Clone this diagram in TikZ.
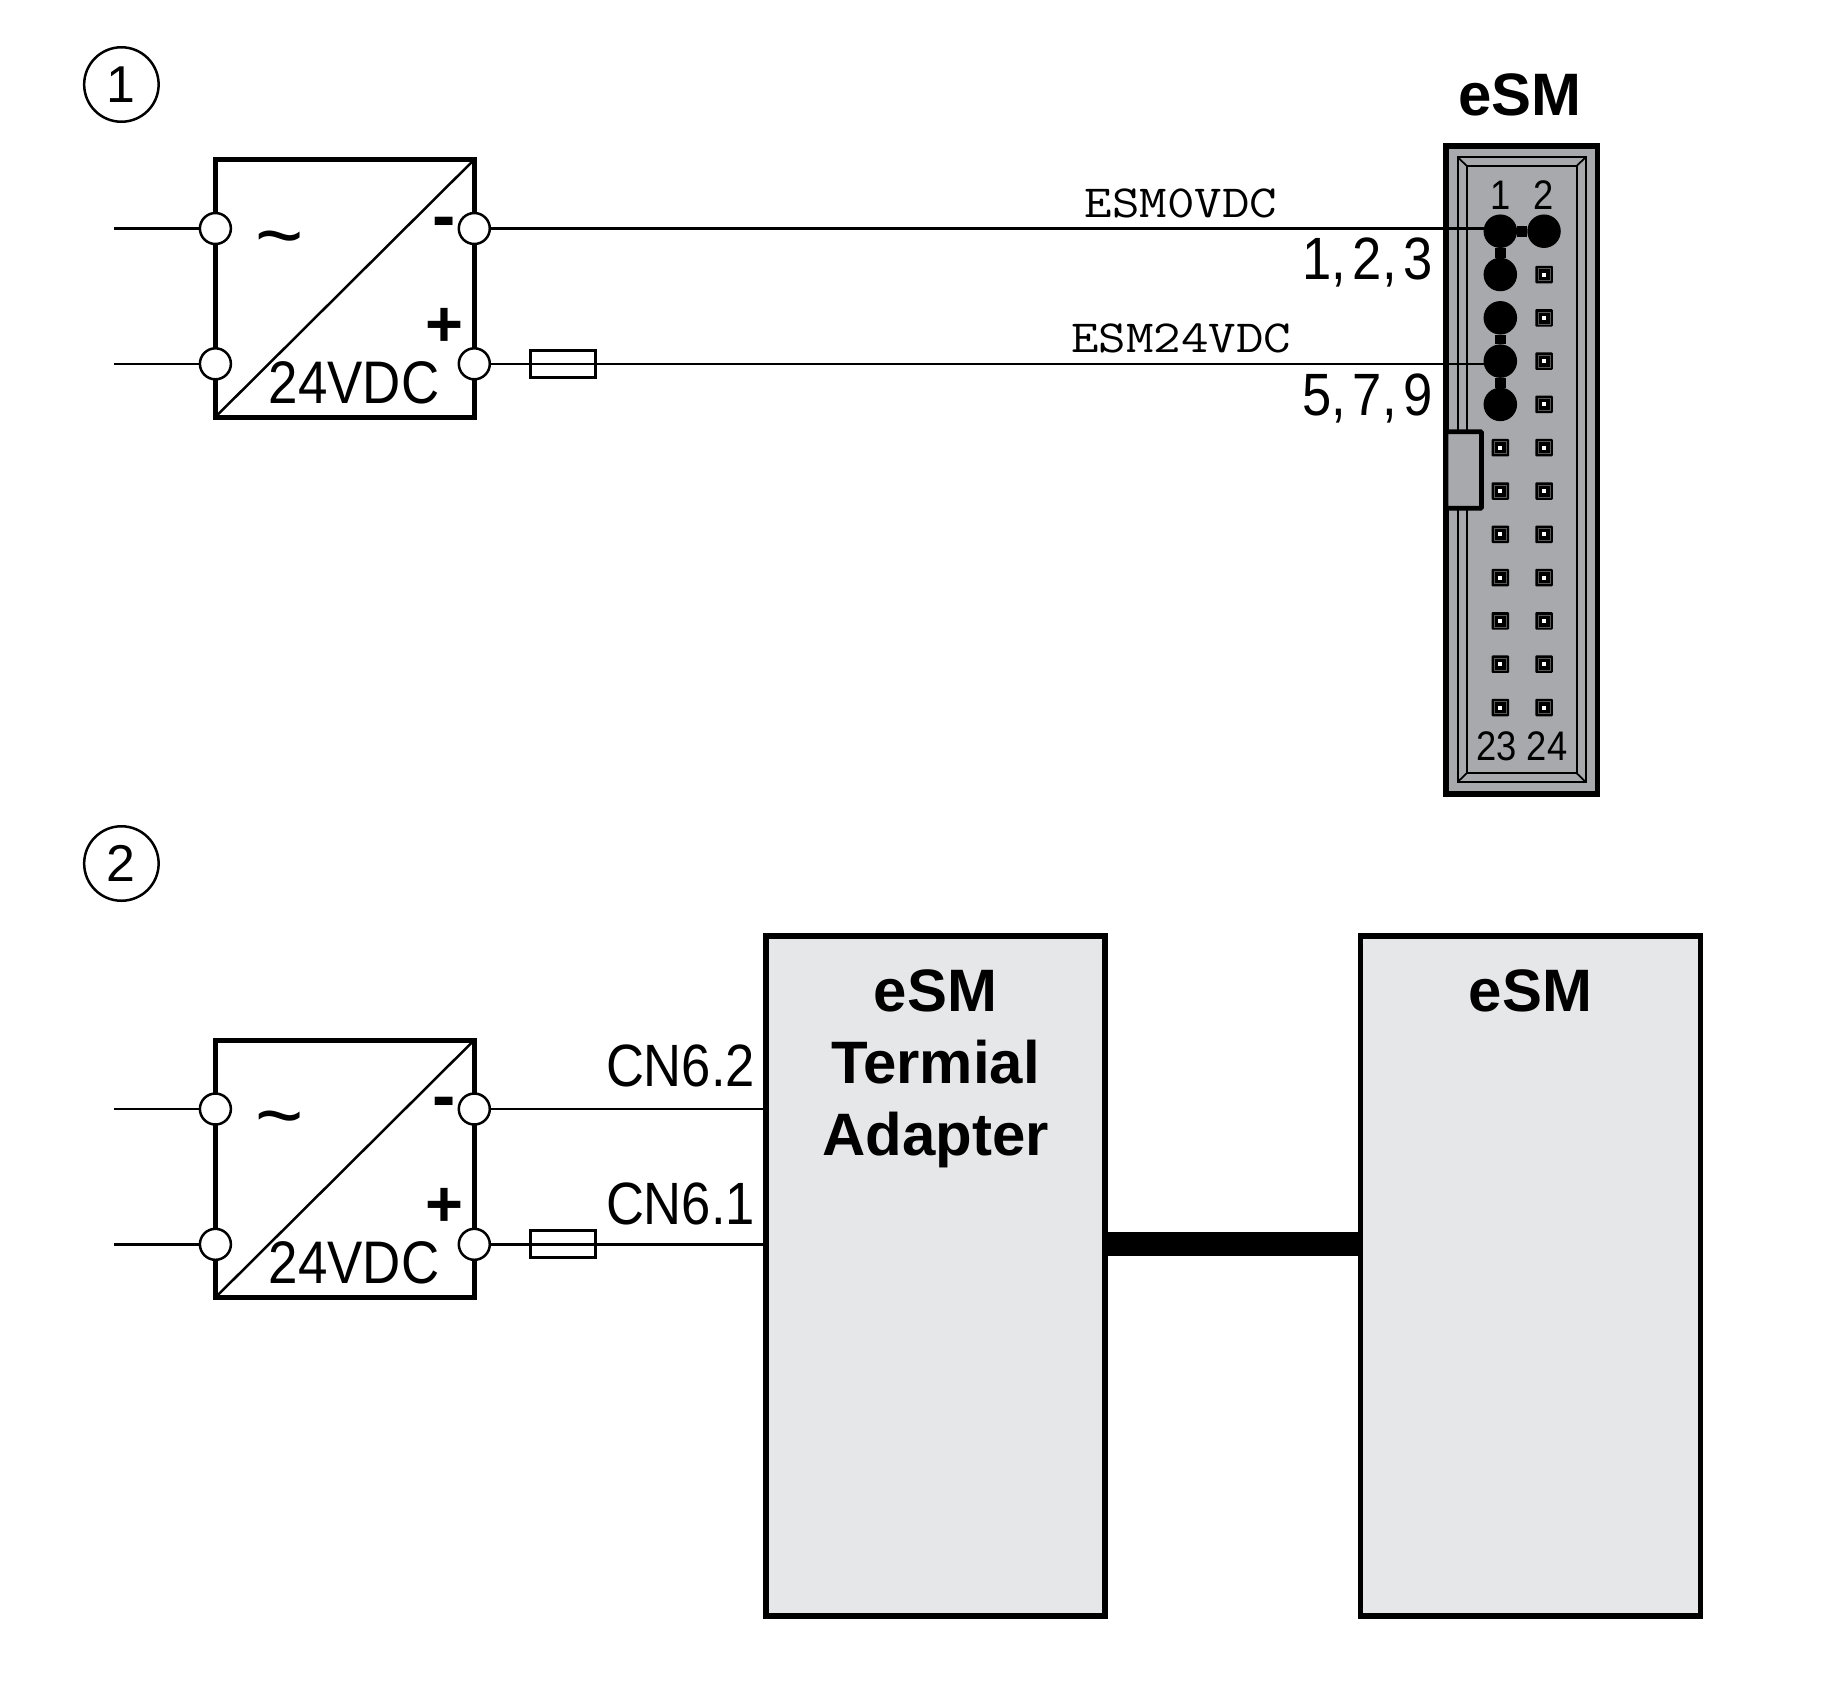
\documentclass[tikz,border=0pt]{standalone}
\usepackage{fontspec}
\usetikzlibrary{positioning}
\setmainfont{Liberation Sans}
\newfontfamily\narrowfont[FakeStretch=0.88]{Liberation Sans}
\newfontfamily\signalfont[FakeStretch=1.16]{Latin Modern Mono}
\definecolor{my_lightgray}{RGB}{230, 231, 232}
\definecolor{my_gray}{RGB}{167, 169, 172}
\tikzset {
  stepmark/.style = {draw, circle, line width=0.05cm, inner sep=0, outer sep=0, minimum size=1.49cm, font=\fontsize{29.5}{31}\selectfont},
  supply/.style = {draw, rectangle, line width=0.1cm, inner sep=0, outer sep=0, minimum width=5.18cm, minimum height=5.15cm},
  terminal/.style = {draw, circle, fill=white, line width=0.05cm, inner sep=0, outer sep=0, minimum size=0.62cm},
  fuse/.style = {draw, rectangle, line width=0.06cm, inner sep=0, outer sep=0, minimum width=1.3cm, minimum height=0.54cm},
  module/.style = {draw, rectangle, fill=my_lightgray, line width=0.115cm, inner sep=0, outer sep=0, minimum height=13.6cm},
  header/.style = {draw, rectangle, fill=my_gray, line width=0.107cm, inner sep=0, outer sep=0, minimum width=3.03cm, minimum height=12.96cm},
  frameline/.style = {draw, rectangle, line width=0.035cm, inner sep=0, outer sep=0},
  latch/.style = {draw, rectangle, fill=my_gray, line width=0.094cm, inner sep=0, outer sep=0, minimum width=0.71cm, minimum height=1.53cm, rounded corners=0.02cm},
  pinbox/.style = {fill=black, rectangle, rounded corners=0.02cm, inner sep=0, outer sep=0, minimum size=0.35cm},
  pinring/.style = {draw=gray!70!black, rectangle, line width=0.012cm, inner sep=0, outer sep=0, minimum size=0.24cm},
  pinhole/.style = {fill=white, rectangle, inner sep=0, outer sep=0, minimum size=0.08cm},
  jumper/.style = {fill=black, circle, inner sep=0, outer sep=0, minimum size=0.67cm},
  wire/.style = {line width=0.05cm, color=black},
  link/.style = {line width=0.22cm, color=black},
  bus/.style = {line width=0.48cm, color=black},
  narrowtext/.style = {inner sep=0, outer sep=0, anchor=base, font=\narrowfont\fontsize{34}{40}\selectfont},
  signal/.style = {inner sep=0, outer sep=0, anchor=base, font=\signalfont\fontsize{26.2}{30}\selectfont},
  pinlabel/.style = {inner sep=0, outer sep=0, anchor=base, font=\narrowfont\fontsize{23.5}{26}\selectfont},
  title/.style = {inner sep=0, outer sep=0, anchor=base, align=center, font=\bfseries\fontsize{34.1}{40.75}\selectfont},
}

\begin{document}
\begin{tikzpicture}[x=0.02cm, y=-0.02cm]
    \path[use as bounding box] (0,0) rectangle (1824,1698);

    \node[stepmark] (step1) at (121.4,84.5) {1};
    \node[stepmark] (step2) at (121.4,863.5) {2};

    % both power supplies
    \foreach \n/\dy in {a/0, b/880.5} {
        \node[supply] (psu\n) at (344.8,288.3+\dy) {};
        \draw[wire] (psu\n.south west) -- (psu\n.north east);
        \node[terminal] (acl\n) at (215.4,228.5+\dy) {};
        \node[terminal] (acn\n) at (215.4,363.8+\dy) {};
        \node[terminal] (minus\n) at (474.3,228.5+\dy) {};
        \node[terminal] (plus\n) at (474.3,363.8+\dy) {};
        \coordinate (inl\n) at (113.6,228.5+\dy);
        \coordinate (inn\n) at (113.6,363.8+\dy);
        \draw[wire] (inl\n) -- (acl\n);
        \draw[wire] (inn\n) -- (acn\n);
        \node[inner sep=0, font=\fontsize{47}{50}\selectfont] (tilde\n) at (280,247+\dy) {\~{}};
        \node[inner sep=0, font=\bfseries\fontsize{39.8}{42}\selectfont] (minsign\n) at (444,228+\dy) {-};
        \node[inner sep=0, font=\bfseries\fontsize{37}{40}\selectfont] (plussign\n) at (444,327+\dy) {+};
        \node[narrowtext, font=\narrowfont\fontsize{34.2}{40}\selectfont] (volt\n) at (354,403+\dy) {24VDC};
    }

    % connector
    \node[header] (esmheader) at (1521.7,470) {};
    \node[frameline, minimum width=2.56cm, minimum height=12.494cm] (frameouter) at (1521.7,469.6) {};
    \node[frameline, minimum width=2.2cm, minimum height=12.152cm] (frameinner) at (1521.7,469.5) {};
    \draw[frameline] (frameouter.north west) -- (frameinner.north west);
    \draw[frameline] (frameouter.north east) -- (frameinner.north east);
    \draw[frameline] (frameouter.south west) -- (frameinner.south west);
    \draw[frameline] (frameouter.south east) -- (frameinner.south east);
    \node[latch, anchor=west] (esmlatch) at (esmheader.west) {};
    \node[title] (esmtop) at (1519.8,115) {eSM};

    \foreach \r in {1,...,12} {
        \pgfmathsetmacro{\py}{231.2+43.3*(\r-1)}
        \pgfmathtruncatemacro{\odd}{2*\r-1}
        \pgfmathtruncatemacro{\even}{2*\r}
        \foreach \p/\px in {\odd/1500.3, \even/1544} {
            \node[pinbox] (pin\p) at (\px,\py) {};
            \node[pinring] at (\px,\py) {};
            \node[pinhole] at (\px,\py) {};
        }
    }
    \foreach \p in {1,2,3,5,7,9} {
        \node[jumper] (dot\p) at (pin\p) {};
    }
    \draw[link] (dot1) -- (dot2);
    \draw[link] (dot1) -- (dot3);
    \draw[link] (dot5) -- (dot7);
    \draw[link] (dot7) -- (dot9);

    \node[pinlabel] (no1) at (1500.3,209) {1};
    \node[pinlabel] (no2) at (1544,209) {2};
    \node[pinlabel] (no23) at (1496.7,760) {23};
    \node[pinlabel] (no24) at (1547,760) {24};

    % wiring of the connector
    \node[fuse] (fusea) at (563,363.8) {};
    \draw[wire] (minusa) -- (minusa -| dot1);
    \draw[wire] (plusa) -- (plusa -| dot7);
    \node[signal] (esm0) at (1181,217.3) {ESM0VDC};
    \node[signal] (esm24) at (1181,352.7) {ESM24VDC};
    \node[narrowtext, anchor=base east] (pinsa) at (1433,279.5) {1,\kern4pt 2,\kern4pt 3};
    \node[narrowtext, anchor=base east] (pinsb) at (1433,415) {5,\kern4pt 7,\kern4pt 9};

    % modules
    \node[module, minimum width=6.784cm] (adapter) at (935.4,1276) {};
    \node[module, minimum width=6.804cm] (esmbox) at (1530.5,1276) {};
    \node[title] (adaptertext) at (935.5,1155) {eSM\\Termial\\Adapter};
    \node[title] (esmtext) at (1530.5,1011) {eSM};
    \node[fuse] (fuseb) at (562.5,1244.3) {};
    \draw[wire] (minusb) -- (minusb -| adapter.west);
    \draw[wire] (plusb) -- (plusb -| adapter.west);
    \draw[bus] (plusb -| adapter.east) -- (plusb -| esmbox.west);
    \node[narrowtext, anchor=base west] (cn62) at (606,1086) {CN6.2};
    \node[narrowtext, anchor=base west] (cn61) at (606,1224) {CN6.1};
\end{tikzpicture}
\end{document}
